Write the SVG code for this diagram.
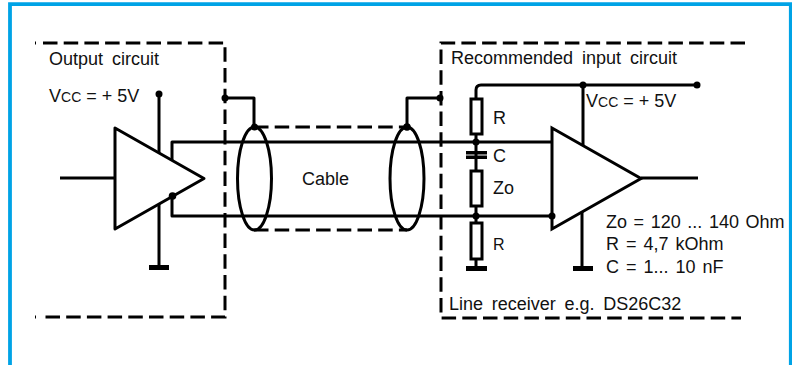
<svg xmlns="http://www.w3.org/2000/svg" width="792" height="365" viewBox="0 0 792 365">
<style>
.w{fill:none;stroke:#000;stroke-width:3;stroke-linejoin:round}
.d{fill:none;stroke:#000;stroke-width:3;stroke-dasharray:14.5 6.200}
.g{fill:#000}
.f{fill:#fff;stroke:#000;stroke-width:3}
text{font-family:"Liberation Sans",Arial,sans-serif;font-size:18px;fill:#111}
.s{font-size:14px}
</style>
<rect width="792" height="365" fill="#fff"/>
<path d="M10 365V4.200H790.800V365" fill="none" stroke="#00a3e6" stroke-width="3.800"/>
<g id="output-circuit-box"><path class="d" d="M43 43H225V317H43"/><path d="M35.500 41.500v3M35.500 315.500v3" stroke="#000"/><text x="49" y="65" word-spacing="4">Output circuit</text><text x="49" y="102">V<tspan class="s">CC</tspan> = + 5V</text></g>
<g id="input-circuit-box"><path class="d" d="M745 43H441V318H741"/><text x="451" y="64" word-spacing="4">Recommended input circuit</text><text x="449" y="310" word-spacing="3.700">Line receiver e.g. DS26C32</text></g>
<g id="connectors">
<path class="w" d="M60 178H114M159 94V153M159 204V268M172 160V142H552M172 196V216H552"/>
<path class="w" d="M225 98H254V127M440 98H407V127"/>
<path class="d" d="M254 127H407M254 230H407"/>
<path class="w" d="M476 99V90Q476 85 481 85H697M583 85V145M476 134V171M476 206V223M476 259V268M582 210V268M641 178H698"/>
</g>
<g id="driver"><path class="w" d="M115 128V229L204 178.500Z"/></g>
<g id="receiver"><path class="f" d="M552 128V229L641 178.500Z"/></g>
<g id="shield-left"><ellipse class="w" cx="254.500" cy="178.500" rx="17" ry="51.500"/></g>
<g id="shield-right"><ellipse class="w" cx="407" cy="178.500" rx="17" ry="51.500"/></g>
<g id="cable"><text x="302" y="185">Cable</text></g>
<g id="r-top"><rect class="f" x="471" y="99" width="11" height="35"/><text x="493" y="124">R</text></g>
<g id="c"><rect class="g" x="466" y="151" width="21" height="3.500"/><rect class="g" x="466" y="155.500" width="21" height="3.500"/><text x="493" y="162">C</text></g>
<g id="zo"><rect class="f" x="471" y="171" width="11" height="35"/><text x="493" y="194">Zo</text></g>
<g id="r-bottom"><rect class="f" x="471" y="223" width="11" height="36"/><text x="493" y="250" style="font-size:16px">R</text></g>
<g id="grounds"><rect class="g" x="149" y="265" width="20" height="5"/><rect class="g" x="466" y="266" width="21" height="5"/><rect class="g" x="573" y="266" width="20" height="5"/></g>
<g id="dots" class="g"><circle cx="159" cy="94" r="3.500"/><circle cx="225" cy="98" r="3.500"/><circle cx="254.500" cy="127" r="3.500"/><circle cx="407" cy="127" r="3.800"/><circle cx="440" cy="98" r="3.500"/><circle cx="172.500" cy="196" r="3.800"/><circle cx="476" cy="142" r="3.500"/><circle cx="476" cy="216" r="3.500"/><circle cx="552" cy="216" r="3.500"/><circle cx="583" cy="85" r="3.500"/><circle cx="697" cy="85" r="3.500"/></g>
<g id="vcc-right"><text x="586" y="107">V<tspan class="s">CC</tspan> = + 5V</text></g>
<g id="values"><text x="606" y="228" word-spacing="1.600">Zo = 120 ... 140 Ohm</text><text x="606" y="250" word-spacing="2">R = 4,7 kOhm</text><text x="606" y="273" word-spacing="2">C = 1... 10 nF</text></g>
</svg>
